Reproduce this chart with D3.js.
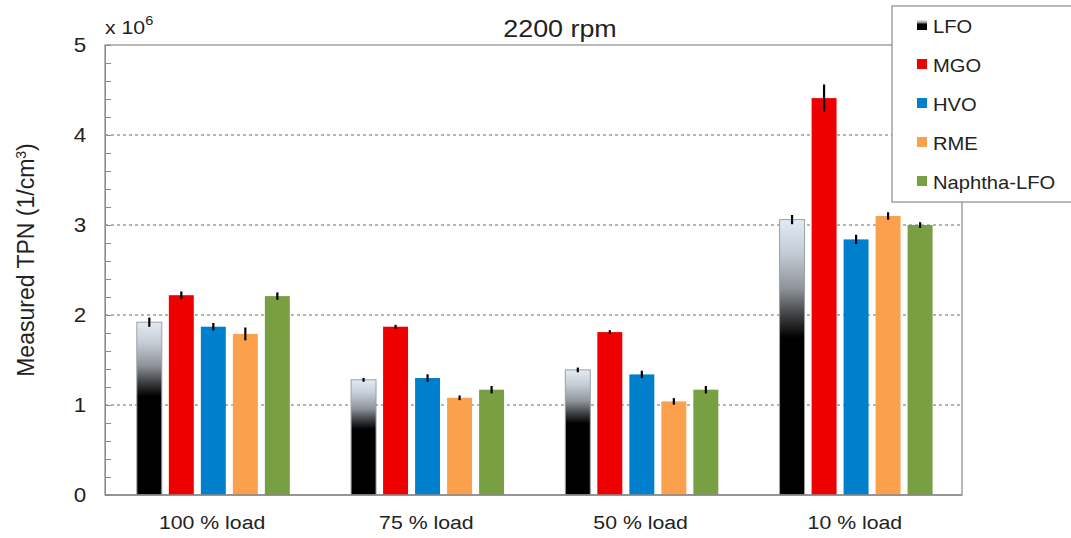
<!DOCTYPE html>
<html><head><meta charset="utf-8">
<script src="https://cdn.jsdelivr.net/npm/d3@7"></script>
<style>body{margin:0;background:#fff;} svg{display:block;font-family:Arial, "Liberation Sans", sans-serif;}</style>
</head><body>
<svg id="chart" width="1071" height="538"></svg>
<script>
const categories = ["100 % load", "75 % load", "50 % load", "10 % load"];
const seriesNames = ["LFO", "MGO", "HVO", "RME", "Naphtha-LFO"];
const seriesColors = ["url(#lfoGrad)", "#ee0000", "#0080cc", "#fba04c", "#78a042"];
const LFO = [1.92, 1.28, 1.39, 3.06];
const MGO = [2.22, 1.87, 1.81, 4.41];
const HVO = [1.87, 1.30, 1.34, 2.84];
const RME = [1.79, 1.08, 1.04, 3.10];
const NAPH = [2.21, 1.17, 1.17, 3.00];
const LFOerr = [0.04, 0.01, 0.015, 0.04];
const MGOerr = [0.03, 0.01, 0.01, 0.14];
const HVOerr = [0.03, 0.03, 0.03, 0.04];
const RMEerr = [0.06, 0.015, 0.025, 0.03];
const NAPHerr = [0.03, 0.03, 0.03, 0.02];
const yTicks = [0, 1, 2, 3, 4, 5];
const gridValues = [1, 2, 3, 4];

const values = [LFO, MGO, HVO, RME, NAPH];
const errors = [LFOerr, MGOerr, HVOerr, RMEerr, NAPHerr];

const SX = 1.12; // horizontal stretch of text, as in the reference image
const svg = d3.select("#chart");
const m = {left: 105, right: 962, top: 45, bottom: 495};

const defs = svg.append("defs");
const g = defs.append("linearGradient").attr("id", "lfoGrad").attr("x1", 0).attr("y1", 0).attr("x2", 0).attr("y2", 1);
[[0, "#e2eaf3"], [0.12, "#c4ccd5"], [0.25, "#8e949a"], [0.35, "#3c3e40"], [0.43, "#000"], [1, "#000"]]
  .forEach(([o, c]) => g.append("stop").attr("offset", o).attr("stop-color", c));

const x0 = d3.scaleBand().domain(categories).range([m.left, m.right]).paddingInner(0).paddingOuter(0);
const groupW = 153;
const x1 = d3.scaleBand().domain(seriesNames).range([0, groupW]).paddingInner(0.22);
const groupOffset = (x0.bandwidth() - groupW) / 2 + 1.2;
const y = d3.scaleLinear().domain([0, 5]).range([m.bottom, m.top]);

function stext(parent, x, yy, size, anchor) {
  return parent.append("g").attr("transform", `translate(${x},${yy}) scale(${SX},1)`)
    .append("text").attr("font-size", size).attr("text-anchor", anchor || "start").attr("fill", "#222");
}

// gridlines
svg.append("g").selectAll("line").data(gridValues).join("line")
  .attr("x1", m.left).attr("x2", m.right)
  .attr("y1", d => y(d)).attr("y2", d => y(d))
  .attr("stroke", "#6a6a6a").attr("stroke-width", 1).attr("stroke-dasharray", "3,3");

// frame
svg.append("rect").attr("x", m.left).attr("y", m.top)
  .attr("width", m.right - m.left).attr("height", m.bottom - m.top)
  .attr("fill", "none").attr("stroke", "#8a8a8a").attr("stroke-width", 1.2);

// left axis with minor ticks inside
const yAxis = d3.axisLeft(y).tickValues(d3.range(0, 5.01, 0.2)).tickSize(-6).tickFormat("");
const ya = svg.append("g").attr("transform", `translate(${m.left},0)`).call(yAxis);
ya.select(".domain").attr("stroke", "#8a8a8a");
ya.selectAll(".tick line").attr("stroke", "#8a8a8a");
yTicks.forEach(d => stext(svg, 80, y(d) + 7, 20, "middle").text(d));

// bars
seriesNames.forEach((s, si) => {
  const gr = svg.append("g");
  gr.selectAll("rect").data(categories).join("rect")
    .attr("x", (c) => x0(c) + groupOffset + x1(s))
    .attr("y", (c, i) => y(values[si][i]))
    .attr("width", x1.bandwidth())
    .attr("height", (c, i) => y(0) - y(values[si][i]))
    .attr("fill", seriesColors[si])
    .attr("stroke", si === 0 ? "#9aa0a6" : "none").attr("stroke-width", 1);
  gr.selectAll("line").data(categories).join("line")
    .attr("x1", c => x0(c) + groupOffset + x1(s) + x1.bandwidth() / 2)
    .attr("x2", c => x0(c) + groupOffset + x1(s) + x1.bandwidth() / 2)
    .attr("y1", (c, i) => y(values[si][i] + errors[si][i]) - 1)
    .attr("y2", (c, i) => y(values[si][i] - errors[si][i]) + 1)
    .attr("stroke", "#000").attr("stroke-width", 2.2);
});

// bottom axis line
svg.append("line").attr("x1", m.left).attr("x2", m.right).attr("y1", m.bottom).attr("y2", m.bottom)
  .attr("stroke", "#8a8a8a").attr("stroke-width", 1.5);

// x labels
categories.forEach(c => stext(svg, x0(c) + x0.bandwidth() / 2, 529, 19, "middle").text(c));

// title
stext(svg, 560, 37, 24, "middle").text("2200 rpm");

// x 10^6
const sc = stext(svg, 105, 34, 19, "start");
sc.append("tspan").text("x 10");
sc.append("tspan").attr("dy", -9).attr("font-size", 13).text("6");

// y axis label
const yl = svg.append("text").attr("transform", "translate(34,260) rotate(-90)")
  .attr("text-anchor", "middle").attr("font-size", 23).attr("fill", "#222");
yl.append("tspan").text("Measured TPN (1/cm");
yl.append("tspan").attr("dy", -8).attr("font-size", 14).text("3");
yl.append("tspan").attr("dy", 8).text(")");

// legend
svg.append("rect").attr("x", 892).attr("y", 6).attr("width", 190).attr("height", 196)
  .attr("fill", "#fff").attr("stroke", "#8a8a8a").attr("stroke-width", 1.2);
seriesNames.forEach((d, i) => {
  const yy = 26 + i * 39;
  svg.append("rect").attr("x", 917).attr("y", yy - 6).attr("width", 10).attr("height", 10)
    .attr("fill", seriesColors[i]);
  stext(svg, 933, yy + 7, 18, "start").text(d);
});
</script>
</body></html>
